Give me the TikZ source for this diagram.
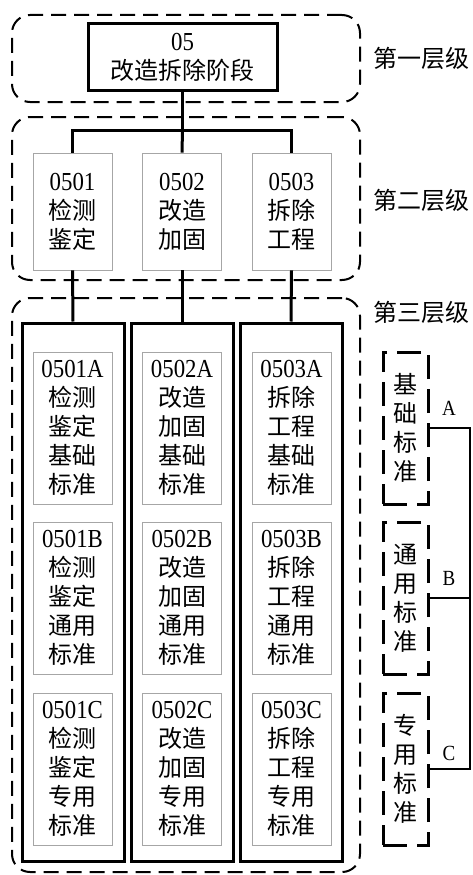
\documentclass[tikz,border=0pt]{standalone}
\usepackage{fontspec}
\setmainfont{Liberation Serif}[FakeStretch=0.88,Scale=1.08]
\newfontfamily\cjk{Noto Sans CJK SC}
\tikzset{
  txt/.style={font=\fontsize{24}{29}\selectfont, align=center, inner sep=0pt},
  layerbox/.style={draw, line width=2pt, dash pattern=on 15pt off 8pt, rounded corners=18pt, inner sep=0pt},
  topbox/.style={draw, line width=3pt, txt, minimum width=189pt, minimum height=66pt},
  graybox/.style={draw=black!35, line width=0.8pt, txt, minimum width=79pt},
  colbox/.style={draw, line width=3pt, minimum width=102pt, minimum height=538pt, inner sep=0pt},
  legbox/.style={draw, line width=3pt, dash pattern=on 24pt off 10pt, txt, minimum width=45pt, minimum height=152pt},
  conn/.style={line width=3pt},
  brk/.style={line width=2pt},
  lab/.style={font=\fontsize{24}{29}\selectfont\cjk, inner sep=0pt},
  abc/.style={font=\fontsize{20}{24}\selectfont, inner sep=0pt}
}
\begin{document}
\begin{tikzpicture}[x=1pt,y=-1pt]
\useasboundingbox (0,0) rectangle (472,875);
% layer frames
\node[layerbox, minimum width=348pt, minimum height=87pt] (L1) at (186,58.5) {};
\node[layerbox, minimum width=348pt, minimum height=163pt] (L2) at (186,198.5) {};
\node[layerbox, minimum width=348pt, minimum height=574pt] (L3) at (186,585) {};
% level labels
\node[lab] (T1) at (421,58) {第一层级};
\node[lab] (T2) at (421,200) {第二层级};
\node[lab] (T3) at (421,312) {第三层级};
% top node
\node[topbox] (top) at (182.5,57) {05\\{\cjk 改造拆除阶段}};
% level 2
\node[graybox, minimum height=117pt] (n1) at (72.5,211.5) {0501\\{\cjk 检测}\\{\cjk 鉴定}};
\node[graybox, minimum height=117pt] (n2) at (182,211.5) {0502\\{\cjk 改造}\\{\cjk 加固}};
\node[graybox, minimum height=117pt] (n3) at (291.5,211.5) {0503\\{\cjk 拆除}\\{\cjk 工程}};
% connectors level 1-2
\coordinate (j) at (182.5,130);
\draw[conn] (top.south) -- (j);
\draw[conn] (n1.north) |- (j) -| (n3.north);
\draw[conn] (j) -- (n2.north);
% columns
\node[colbox] (c1) at (73,592) {};
\node[colbox] (c2) at (182,592) {};
\node[colbox] (c3) at (291,592) {};
\draw[conn] (n1.south) -- (c1.north);
\draw[conn] (n2.south) -- (c2.north);
\draw[conn] (n3.south) -- (c3.north);
% inner boxes
\node[graybox, minimum height=152pt] (a1) at (72.5,428) {0501A\\{\cjk 检测}\\{\cjk 鉴定}\\{\cjk 基础}\\{\cjk 标准}};
\node[graybox, minimum height=152pt] (b1) at (72.5,598) {0501B\\{\cjk 检测}\\{\cjk 鉴定}\\{\cjk 通用}\\{\cjk 标准}};
\node[graybox, minimum height=152pt] (k1) at (72.5,769) {0501C\\{\cjk 检测}\\{\cjk 鉴定}\\{\cjk 专用}\\{\cjk 标准}};
\node[graybox, minimum height=152pt] (a2) at (182,428) {0502A\\{\cjk 改造}\\{\cjk 加固}\\{\cjk 基础}\\{\cjk 标准}};
\node[graybox, minimum height=152pt] (b2) at (182,598) {0502B\\{\cjk 改造}\\{\cjk 加固}\\{\cjk 通用}\\{\cjk 标准}};
\node[graybox, minimum height=152pt] (k2) at (182,769) {0502C\\{\cjk 改造}\\{\cjk 加固}\\{\cjk 专用}\\{\cjk 标准}};
\node[graybox, minimum height=152pt] (a3) at (291.5,428) {0503A\\{\cjk 拆除}\\{\cjk 工程}\\{\cjk 基础}\\{\cjk 标准}};
\node[graybox, minimum height=152pt] (b3) at (291.5,598) {0503B\\{\cjk 拆除}\\{\cjk 工程}\\{\cjk 通用}\\{\cjk 标准}};
\node[graybox, minimum height=152pt] (k3) at (291.5,769) {0503C\\{\cjk 拆除}\\{\cjk 工程}\\{\cjk 专用}\\{\cjk 标准}};
% legend
\node[legbox] (LA) at (405.5,428) {{\cjk 基}\\{\cjk 础}\\{\cjk 标}\\{\cjk 准}};
\node[legbox] (LB) at (405.5,598) {{\cjk 通}\\{\cjk 用}\\{\cjk 标}\\{\cjk 准}};
\node[legbox] (LC) at (405.5,769) {{\cjk 专}\\{\cjk 用}\\{\cjk 标}\\{\cjk 准}};
\coordinate (ra) at (470,428);
\draw[brk] (LA.east) -- (ra) |- (LC.east);
\draw[brk] (LB.east) -- (LB.east -| ra);
\node[abc] (tA) at (449,408) {A};
\node[abc] (tB) at (449,578) {B};
\node[abc] (tC) at (449,753) {C};
\end{tikzpicture}
\end{document}
